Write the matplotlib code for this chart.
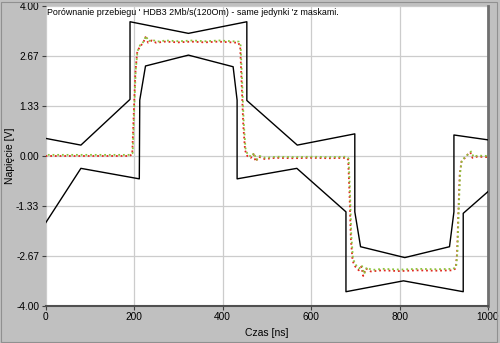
import matplotlib.pyplot as plt
from matplotlib.patches import Rectangle

plt.rcParams['font.family'] = ['Liberation Sans', 'DejaVu Sans']

# mask upper boundary (time ns, voltage V)
upper_t = [0, 80, 191, 191, 323, 455, 455, 569, 699, 699, 712, 812, 913, 923, 923, 1000]
upper_v = [0.47, 0.29, 1.51, 3.58, 3.27, 3.58, 1.48, 0.29, 0.59, -1.49, -2.42, -2.71, -2.42, -1.49, 0.56, 0.43]

# mask lower boundary
lower_t = [0, 80, 212, 213, 226, 323, 424, 433, 433, 568, 679, 679, 809, 944, 944, 1000]
lower_v = [-1.79, -0.33, -0.61, 1.49, 2.40, 2.69, 2.38, 1.49, -0.61, -0.33, -1.49, -3.62, -3.33, -3.62, -1.53, -0.95]

# measured waveform (red)
red_t = [0, 190, 196, 199, 203, 207, 213, 220, 226, 232, 240, 250, 270, 300, 330, 360,
         390, 420, 436, 440, 443, 447, 451, 456, 464, 470, 475, 482, 495, 520, 560, 600,
         640, 680, 684, 687, 690, 694, 700, 708, 714, 718, 724, 735, 760, 800, 840, 880,
         920, 927, 930, 933, 936, 940, 948, 955, 960, 965, 975, 1000]
red_v = [0.0, 0.0, 0.05, 1.0, 2.2, 2.75, 2.92, 3.0, 3.17, 3.02, 3.08, 3.02, 3.05, 3.03, 3.05, 3.03,
         3.05, 3.03, 3.02, 2.9, 2.0, 0.8, 0.15, 0.0, -0.05, 0.05, -0.15, -0.02, -0.08, -0.05, -0.06, -0.05,
         -0.06, -0.05, -0.1, -1.0, -2.2, -2.8, -2.95, -3.05, -2.95, -3.2, -3.0, -3.08, -3.05, -3.07, -3.05, -3.06,
         -3.05, -3.0, -2.6, -1.5, -0.5, -0.15, -0.05, 0.05, 0.1, -0.05, -0.02, -0.03]

# reference waveform (green)
green_t = [0, 191, 197, 200, 204, 208, 214, 221, 227, 233, 241, 252, 272, 302, 332, 362,
           392, 422, 437, 441, 444, 448, 452, 457, 466, 471, 477, 484, 497, 522, 562, 602,
           642, 681, 685, 688, 691, 695, 701, 709, 715, 720, 726, 737, 762, 802, 842, 882,
           921, 928, 931, 934, 937, 941, 950, 957, 962, 967, 977, 1000]
green_v = [0.03, 0.03, 0.08, 1.1, 2.3, 2.8, 2.96, 3.04, 3.2, 3.06, 3.1, 3.05, 3.08, 3.06, 3.08, 3.06,
           3.08, 3.06, 3.05, 2.95, 2.1, 0.9, 0.2, 0.03, -0.02, 0.08, -0.1, 0.0, -0.05, -0.02, -0.03, -0.02,
           -0.03, -0.02, -0.07, -0.9, -2.1, -2.75, -2.9, -3.0, -2.92, -3.15, -2.97, -3.04, -3.01, -3.03, -3.01, -3.02,
           -3.01, -2.96, -2.55, -1.4, -0.45, -0.1, -0.02, 0.08, 0.12, -0.02, 0.01, 0.0]

x_ticks = [0, 200, 400, 600, 800, 1000]
y_ticks = [-4.0, -2.67, -1.33, 0.0, 1.33, 2.67, 4.0]

title = "Porównanie przebiegu ' HDB3 2Mb/s(120Om) - same jedynki 'z maskami."

bg = '#c0c0c0'
fig = plt.figure(figsize=(5.0, 3.43), dpi=100, facecolor=bg)
ax = fig.add_axes([0.091, 0.108, 0.885, 0.8745])
ax.set_facecolor('white')

ax.plot(upper_t, upper_v, color='black', lw=1.0, zorder=3)
ax.plot(lower_t, lower_v, color='black', lw=1.0, zorder=3)
ax.plot(red_t, red_v, color='#e02a20', lw=1.3, linestyle=(0, (1, 1.6)), zorder=4)
ax.plot(green_t, green_v, color='#8cc43c', lw=1.3, linestyle=(1.3, (1, 1.6)), zorder=4)

ax.set_xlim(0, 1000)
ax.set_ylim(-4, 4)
ax.set_xticks(x_ticks)
ax.set_yticks(y_ticks)
ax.set_yticklabels([f"{v:.2f}" for v in y_ticks])
ax.grid(True, color='#cccccc', lw=0.9)
ax.tick_params(direction='out', length=3, width=0.8, color='#404040',
               labelsize=7.3, pad=1.5)

for s in ['left', 'top']:
    ax.spines[s].set_visible(False)
ax.spines['bottom'].set_color('#505050')
ax.spines['bottom'].set_linewidth(1.5)
ax.spines['right'].set_color('#707070')
ax.spines['right'].set_linewidth(2.0)

ax.text(0.004, 0.992, title, transform=ax.transAxes, ha='left', va='top',
        fontsize=6.4)

ax.set_xlabel('Czas [ns]', fontsize=7.5, labelpad=4)
ax.set_ylabel('Napięcie [V]', fontsize=7.5)
ax.yaxis.set_label_coords(-0.07, 0.5)

# window frame around the figure
fig.patches.append(Rectangle((0.002, 0.004), 0.992, 0.99, transform=fig.transFigure,
                             fill=False, edgecolor='#909090', lw=0.8))

fig.savefig('out.png', dpi=100, facecolor=bg)
